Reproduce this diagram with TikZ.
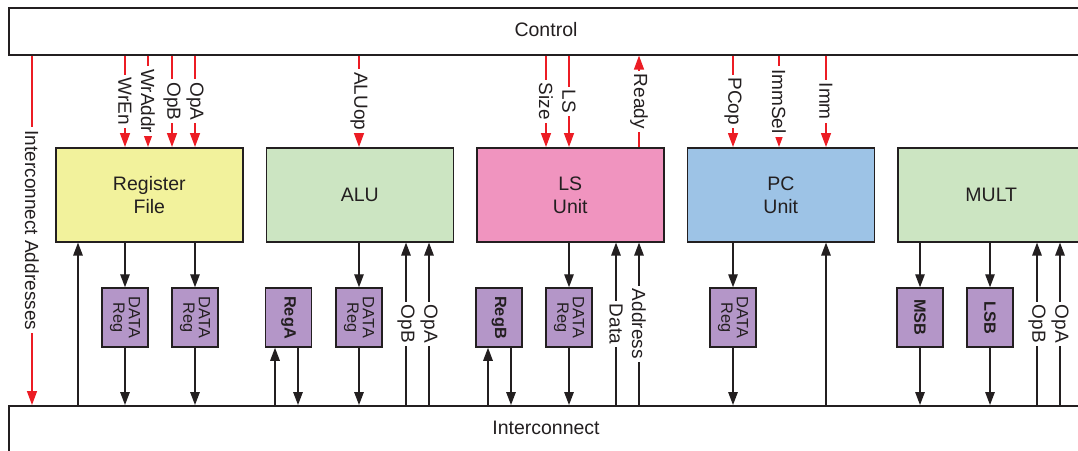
\documentclass[tikz,border=0pt]{standalone}
\usepackage{fontspec}
\setmainfont{Liberation Sans}
\usetikzlibrary{arrows.meta}

\definecolor{ink}{RGB}{35,31,32}
\definecolor{sigred}{RGB}{236,28,36}
\definecolor{rfyellow}{RGB}{242,242,156}
\definecolor{alugreen}{RGB}{204,229,194}
\definecolor{lspink}{RGB}{240,148,191}
\definecolor{pcblue}{RGB}{157,195,230}
\definecolor{regpurple}{RGB}{180,150,200}

\tikzset{
  bus/.style={draw=ink, line width=1.6pt, anchor=north west, inner sep=0pt, minimum width=1076pt},
  unitbox/.style={draw=ink, line width=1.6pt, anchor=north west, inner sep=0pt,
    minimum width=187pt, minimum height=94pt},
  unittxt/.style={text=ink, align=center, font=\fontsize{19.5pt}{23pt}\selectfont},
  regbox/.style={draw=ink, line width=1.5pt, fill=regpurple, inner sep=0pt,
    minimum width=46pt, minimum height=59pt},
  regtxt/.style={text=ink, rotate=-90, align=center, inner sep=0pt,
    font=\fontsize{16.3pt}{15.5pt}\selectfont},
  ctl/.style={draw=sigred, line width=1.4pt, -{Triangle[length=14pt,width=10pt]}},
  dat/.style={draw=ink, line width=1.4pt, -{Triangle[length=13pt,width=9.5pt]}},
  lbl/.style={midway, fill=white, text=ink, rotate=-90, inner xsep=3pt, inner ysep=0pt,
    font=\fontsize{19pt}{22pt}\selectfont},
}

\begin{document}
\begin{tikzpicture}[x=1pt,y=-1pt]
\useasboundingbox (0,0) rectangle (1078,450);
\clip (0,0) rectangle (1078,450);
\fill[white] (0,0) rectangle (1078,450);

% buses
\node[bus, minimum height=47pt] (ctrl) at (8,7) {};
\node[unittxt] (ctrltxt) at (546,30) {Control};
\node[bus, minimum height=60pt] (ic) at (8,405) {};
\node[unittxt] (ictxt) at (546,428) {Interconnect};

% functional units
\node[unitbox, fill=rfyellow] (rf) at (55,147) {};
\node[unittxt] (rftxt) at (rf.center) {Register\\File};
\node[unitbox, fill=alugreen] (alu) at (265.5,147) {};
\node[unittxt] (alutxt) at (alu.center) {ALU};
\node[unitbox, fill=lspink] (ls) at (476,147) {};
\node[unittxt] (lstxt) at (ls.center) {LS\\Unit};
\node[unitbox, fill=pcblue] (pc) at (686.5,147) {};
\node[unittxt] (pctxt) at (pc.center) {PC\\Unit};
\node[unitbox, fill=alugreen] (mult) at (897,147) {};
\node[unittxt] (multtxt) at (mult.center) {MULT};

% pipeline registers
\node[regbox] (d1) at (125,317.5) {};
\node[regtxt] (d1t) at (d1) {DATA\\Reg};
\node[regbox] (d2) at (195,317.5) {};
\node[regtxt] (d2t) at (d2) {DATA\\Reg};
\node[regbox] (ra) at (288.5,317.5) {};
\node[regtxt] (rat) at (ra) {\bfseries RegA};
\node[regbox] (d3) at (359,317.5) {};
\node[regtxt] (d3t) at (d3) {DATA\\Reg};
\node[regbox] (rb) at (499,317.5) {};
\node[regtxt] (rbt) at (rb) {\bfseries RegB};
\node[regbox] (d4) at (569,317.5) {};
\node[regtxt] (d4t) at (d4) {DATA\\Reg};
\node[regbox] (d5) at (733,317.5) {};
\node[regtxt] (d5t) at (d5) {DATA\\Reg};
\node[regbox] (msb) at (920,317.5) {};
\node[regtxt] (msbt) at (msb) {\bfseries MSB};
\node[regbox] (lsb) at (990,317.5) {};
\node[regtxt] (lsbt) at (lsb) {\bfseries LSB};

% control signals
\draw[ctl] (32,0 |- ctrl.south) -- node[lbl] {Interconnect Addresses} (32,0 |- ic.north);
\draw[ctl] (125,0 |- ctrl.south) -- node[lbl] {WrEn} (125,0 |- rf.north);
\draw[ctl] (148,0 |- ctrl.south) -- node[lbl] {WrAddr} (148,0 |- rf.north);
\draw[ctl] (172,0 |- ctrl.south) -- node[lbl] {OpB} (172,0 |- rf.north);
\draw[ctl] (195,0 |- ctrl.south) -- node[lbl] {OpA} (195,0 |- rf.north);
\draw[ctl] (359,0 |- ctrl.south) -- node[lbl] {ALUop} (359,0 |- alu.north);
\draw[ctl] (546,0 |- ctrl.south) -- node[lbl] {Size} (546,0 |- ls.north);
\draw[ctl] (569,0 |- ctrl.south) -- node[lbl] {LS} (569,0 |- ls.north);
\draw[ctl] (639,0 |- ls.north) -- node[lbl] {Ready} (639,0 |- ctrl.south);
\draw[ctl] (733,0 |- ctrl.south) -- node[lbl] {PCop} (733,0 |- pc.north);
\draw[ctl] (779,0 |- ctrl.south) -- node[lbl] {ImmSel} (779,0 |- pc.north);
\draw[ctl] (826,0 |- ctrl.south) -- node[lbl] {Imm} (826,0 |- pc.north);

% register file datapath
\draw[dat] (78,0 |- ic.north) -- (78,0 |- rf.south);
\draw[dat] (d1.north |- rf.south) -- (d1.north);
\draw[dat] (d1.south) -- (d1.south |- ic.north);
\draw[dat] (d2.north |- rf.south) -- (d2.north);
\draw[dat] (d2.south) -- (d2.south |- ic.north);

% ALU datapath
\draw[dat] (275,0 |- ic.north) -- (275,0 |- ra.south);
\draw[dat] (298,0 |- ra.south) -- (298,0 |- ic.north);
\draw[dat] (d3.north |- alu.south) -- (d3.north);
\draw[dat] (d3.south) -- (d3.south |- ic.north);
\draw[dat] (406,0 |- ic.north) -- node[lbl] {OpB} (406,0 |- alu.south);
\draw[dat] (429,0 |- ic.north) -- node[lbl] {OpA} (429,0 |- alu.south);

% load/store datapath
\draw[dat] (488,0 |- ic.north) -- (488,0 |- rb.south);
\draw[dat] (511,0 |- rb.south) -- (511,0 |- ic.north);
\draw[dat] (d4.north |- ls.south) -- (d4.north);
\draw[dat] (d4.south) -- (d4.south |- ic.north);
\draw[dat] (616,0 |- ic.north) -- node[lbl] {Data} (616,0 |- ls.south);
\draw[dat] (639,0 |- ic.north) -- node[lbl] {Address} (639,0 |- ls.south);

% PC datapath
\draw[dat] (d5.north |- pc.south) -- (d5.north);
\draw[dat] (d5.south) -- (d5.south |- ic.north);
\draw[dat] (826,0 |- ic.north) -- (826,0 |- pc.south);

% multiplier datapath
\draw[dat] (msb.north |- mult.south) -- (msb.north);
\draw[dat] (msb.south) -- (msb.south |- ic.north);
\draw[dat] (lsb.north |- mult.south) -- (lsb.north);
\draw[dat] (lsb.south) -- (lsb.south |- ic.north);
\draw[dat] (1037,0 |- ic.north) -- node[lbl] {OpB} (1037,0 |- mult.south);
\draw[dat] (1060,0 |- ic.north) -- node[lbl] {OpA} (1060,0 |- mult.south);
\end{tikzpicture}
\end{document}
